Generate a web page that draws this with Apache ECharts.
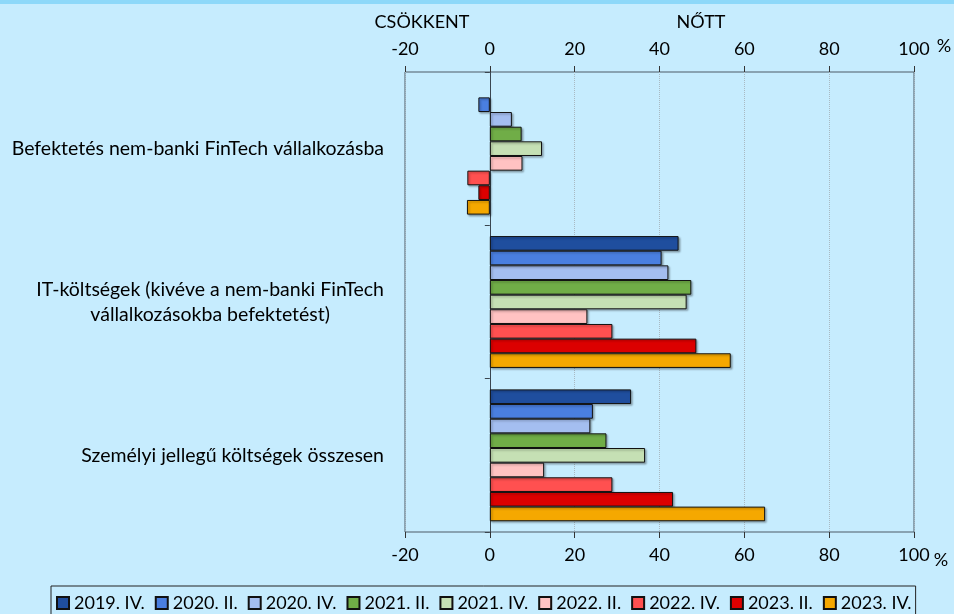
<html>
<head>
    <meta charset="utf-8">
    <script src="https://cdn.jsdelivr.net/npm/echarts@6/dist/echarts.min.js"></script>
    <style>
        html, body { margin: 0; padding: 0; background: #c6ecfe; }
        #main { width: 954px; height: 614px; }
    </style>
</head>
<body>
    <div id="main"></div>
    <script>
        // kategóriák (felülről lefelé)
        var categories = [
            'Befektetés nem-banki FinTech vállalkozásba',
            'IT-költségek (kivéve a nem-banki FinTech\nvállalkozásokba befektetést)',
            'Személyi jellegű költségek összesen'
        ];
        var periods = ['2019. IV.', '2020. II.', '2020. IV.', '2021. II.', '2021. IV.',
                       '2022. II.', '2022. IV.', '2023. II.', '2023. IV.'];

        // értékek kategóriánként, időszakonként (%)
        var v2019IV = ['-', 44.5, 33.3];
        var v2020II = [-2.7, 40.5, 24.3];
        var v2020IV = [5.2, 42.1, 23.7];
        var v2021II = [7.5, 47.5, 27.5];
        var v2021IV = [12.3, 46.4, 36.6];
        var v2022II = [7.7, 23.0, 12.8];
        var v2022IV = [-5.3, 28.9, 28.9];
        var v2023II = [-2.7, 48.7, 43.2];
        var v2023IV = [-5.4, 56.8, 64.9];
        var values = [v2019IV, v2020II, v2020IV, v2021II, v2021IV, v2022II, v2022IV, v2023II, v2023IV];

        var colors = ['#1F4E9E', '#4A7FE0', '#A4BEF0', '#70AD47', '#C5E0B4',
                      '#FFC2C2', '#FF5050', '#DC0000', '#F5A800'];

        var font = 'Lato';
        var myChart = echarts.init(document.getElementById('main'));

        var series = periods.map(function (p, i) {
            return {
                name: p,
                type: 'bar',
                xAxisIndex: 0,
                yAxisIndex: 0,
                data: values[i],
                barGap: 0,
                barCategoryGap: '14%',
                itemStyle: {
                    color: colors[i],
                    borderColor: '#111',
                    borderWidth: 1,
                    shadowColor: 'rgba(0,0,0,0.3)',
                    shadowBlur: 2,
                    shadowOffsetX: 1.5,
                    shadowOffsetY: 1.5
                },
                emphasis: { disabled: true }
            };
        });

        function valueAxis(pos, withSplit) {
            return {
                type: 'value',
                position: pos,
                min: -20,
                max: 100,
                interval: 20,
                axisLine: { onZero: false, lineStyle: { color: '#000', width: 1 } },
                axisTick: { show: true, length: 6, lineStyle: { color: '#333' } },
                axisLabel: { color: '#000', fontFamily: font, fontSize: 18, margin: 14 },
                splitLine: { show: withSplit, lineStyle: { color: '#a9b9c2', type: 'dotted' } }
            };
        }

        var option = {
            animation: false,
            backgroundColor: '#c6ecfe',
            grid: {
                left: 405, right: 40, top: 72, bottom: 82,
                containLabel: false,
                outerBoundsMode: 'none',
                show: true, borderColor: '#4d5b66', borderWidth: 1,
                backgroundColor: 'transparent'
            },
            legend: {
                data: periods,
                left: 51,
                top: 586,
                icon: 'rect',
                itemWidth: 12,
                itemHeight: 12,
                itemGap: 10,
                padding: [8, 4, 20, 5],
                borderColor: '#222',
                borderWidth: 1,
                textStyle: { color: '#000', fontFamily: font, fontSize: 18 }
            },
            xAxis: [valueAxis('bottom', true), valueAxis('top', false)],
            yAxis: {
                type: 'category',
                inverse: true,
                data: categories,
                axisLine: { onZero: true, lineStyle: { color: '#3a4650' } },
                axisTick: { show: true, length: 5, lineStyle: { color: '#3a4650' } },
                axisLabel: {
                    margin: 21,
                    color: '#000',
                    fontFamily: font,
                    fontSize: 19.5,
                    lineHeight: 25,
                    formatter: function (s) {
                        return s.split('\n').map(function (l) { return '{c|' + l + '}'; }).join('\n');
                    },
                    rich: {
                        c: { align: 'center', fontFamily: font, fontSize: 19.5, lineHeight: 25, color: '#000' }
                    }
                },
                splitLine: { show: false }
            },
            graphic: [
                { type: 'rect', left: 0, top: 0, shape: { width: 954, height: 4 }, style: { fill: '#8dd8f9' } },
                { type: 'text', x: 422, y: 22, style: { text: 'CSÖKKENT', fontFamily: font, fontSize: 18, fill: '#000', align: 'center', verticalAlign: 'middle' } },
                { type: 'text', x: 701, y: 22, style: { text: 'NŐTT', fontFamily: font, fontSize: 18, fill: '#000', align: 'center', verticalAlign: 'middle' } },
                { type: 'text', x: 944, y: 46, style: { text: '%', fontFamily: font, fontSize: 18, fill: '#000', align: 'center', verticalAlign: 'middle' } },
                { type: 'text', x: 941, y: 560, style: { text: '%', fontFamily: font, fontSize: 18, fill: '#000', align: 'center', verticalAlign: 'middle' } }
            ],
            series: series
        };

        myChart.setOption(option);
    </script>
</body>
</html>
